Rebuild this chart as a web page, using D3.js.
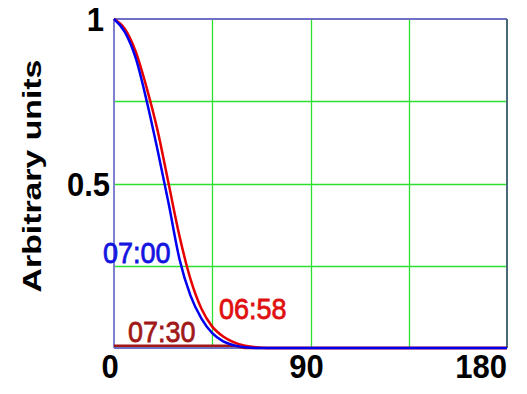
<!DOCTYPE html>
<html>
<head>
<meta charset="utf-8">
<script src="https://cdn.jsdelivr.net/npm/d3@7"></script>
<style>
  body { margin: 0; background: #fff; }
  text { font-family: Arial, "Liberation Sans", sans-serif; }
</style>
</head>
<body>
<svg id="chart" width="527" height="394"></svg>
<script>
// x positions (arbitrary time axis) and the three traces
var xVals   = [0, 5, 10, 15, 20, 25, 30, 35, 40, 45, 50, 55, 60, 65, 70, 75, 180];
var blue700 = [1, 0.96, 0.88, 0.75, 0.6, 0.44, 0.27, 0.16, 0.09, 0.045, 0.02, 0.008, 0.002, 0, 0, 0, 0];
var red658  = [1, 0.97, 0.9, 0.79, 0.66, 0.5, 0.34, 0.21, 0.12, 0.065, 0.035, 0.017, 0.007, 0.002, 0, 0, 0];
var dark730 = [0.007, 0.007, 0.007, 0.007, 0.007, 0.007, 0.007, 0.007, 0.007, 0.007, 0.007, 0.007, 0, 0, 0, 0, 0];
var xTicks  = [0, 90, 180];
var yTicks  = [0.5, 1];
var xGrid   = [45, 90, 135];
var yGrid   = [0.25, 0.5, 0.75];

var svg = d3.select("#chart");
var mLeft = 114, mRight = 507, mTop = 19, mBottom = 348;

var x = d3.scaleLinear().domain([0, 180]).range([mLeft, mRight]);
var y = d3.scaleLinear().domain([0, 1]).range([mBottom, mTop]);

// grid
svg.selectAll("line.vg").data(xGrid).enter().append("line").attr("class", "vg")
    .attr("x1", function(d) { return Math.round(x(d)) + 0.5; })
    .attr("x2", function(d) { return Math.round(x(d)) + 0.5; })
    .attr("y1", mTop).attr("y2", mBottom)
    .attr("stroke", "#2ee02e").attr("stroke-width", 1.3);
svg.selectAll("line.hg").data(yGrid).enter().append("line").attr("class", "hg")
    .attr("y1", function(d) { return Math.round(y(d)) + 0.5; })
    .attr("y2", function(d) { return Math.round(y(d)) + 0.5; })
    .attr("x1", mLeft).attr("x2", mRight)
    .attr("stroke", "#2ee02e").attr("stroke-width", 1.3);

// frame
svg.append("line").attr("x1", mLeft).attr("x2", mRight).attr("y1", mTop).attr("y2", mTop)
    .attr("stroke", "#6f6fc8").attr("stroke-width", 2);
svg.append("line").attr("x1", mLeft).attr("x2", mLeft).attr("y1", mTop).attr("y2", mBottom)
    .attr("stroke", "#8080d0").attr("stroke-width", 2);
svg.append("line").attr("x1", mRight).attr("x2", mRight).attr("y1", mTop).attr("y2", mBottom)
    .attr("stroke", "#4a6a7a").attr("stroke-width", 2);
svg.append("line").attr("x1", mLeft).attr("x2", mRight).attr("y1", mBottom).attr("y2", mBottom)
    .attr("stroke", "#7070c0").attr("stroke-width", 2);

// curves
var line = d3.line()
    .x(function(d) { return x(d[0]); })
    .y(function(d) { return y(d[1]); })
    .curve(d3.curveMonotoneX);

function series(vals) { return xVals.map(function(v, i) { return [v, vals[i]]; }); }

svg.append("path").datum(series(dark730)).attr("d", line)
    .attr("fill", "none").attr("stroke", "#a01818").attr("stroke-width", 2.5);
svg.append("path").datum(series(red658)).attr("d", line)
    .attr("fill", "none").attr("stroke", "#e60000").attr("stroke-width", 2.5);
svg.append("path").datum(series(blue700)).attr("d", line)
    .attr("fill", "none").attr("stroke", "#0000f0").attr("stroke-width", 2.5);

// tick labels
svg.selectAll("text.xt").data(xTicks).enter().append("text")
    .attr("transform", function(d, i) {
        var px = i === xTicks.length - 1 ? mRight : x(d) - 4;
        return "translate(" + px + ",378) scale(1,1.05)";
    })
    .attr("text-anchor", function(d, i) { return i === xTicks.length - 1 ? "end" : "middle"; })
    .attr("font-size", "31px").attr("font-weight", "bold").attr("fill", "#000")
    .text(function(d) { return d; });

svg.selectAll("text.yt").data(yTicks).enter().append("text")
    .attr("transform", function(d) {
        var px = d === 1 ? 104 : 110;
        return "translate(" + px + "," + (y(d) + 12) + ") scale(1,1.05)";
    })
    .attr("text-anchor", "end")
    .attr("font-size", "31px").attr("font-weight", "bold").attr("fill", "#000")
    .text(function(d) { return d; });

// axis title
svg.append("text")
    .attr("transform", "translate(41,176) rotate(-90) scale(1.3,1)")
    .attr("text-anchor", "middle")
    .attr("font-size", "26px").attr("font-weight", "bold").attr("fill", "#000")
    .text("Arbitrary units");

// curve labels
var labels = [
    { t: "07:00", x: 103, y: 263, c: "#1414e0" },
    { t: "06:58", x: 219, y: 319, c: "#e01010" },
    { t: "07:30", x: 128, y: 342, c: "#a01818" }
];
svg.selectAll("text.lab").data(labels).enter().append("text")
    .attr("transform", function(d) { return "translate(" + d.x + "," + d.y + ") scale(1,1.08)"; })
    .attr("font-size", "27px").attr("fill", function(d) { return d.c; })
    .attr("stroke", function(d) { return d.c; }).attr("stroke-width", 0.7)
    .text(function(d) { return d.t; });
</script>
</body>
</html>
